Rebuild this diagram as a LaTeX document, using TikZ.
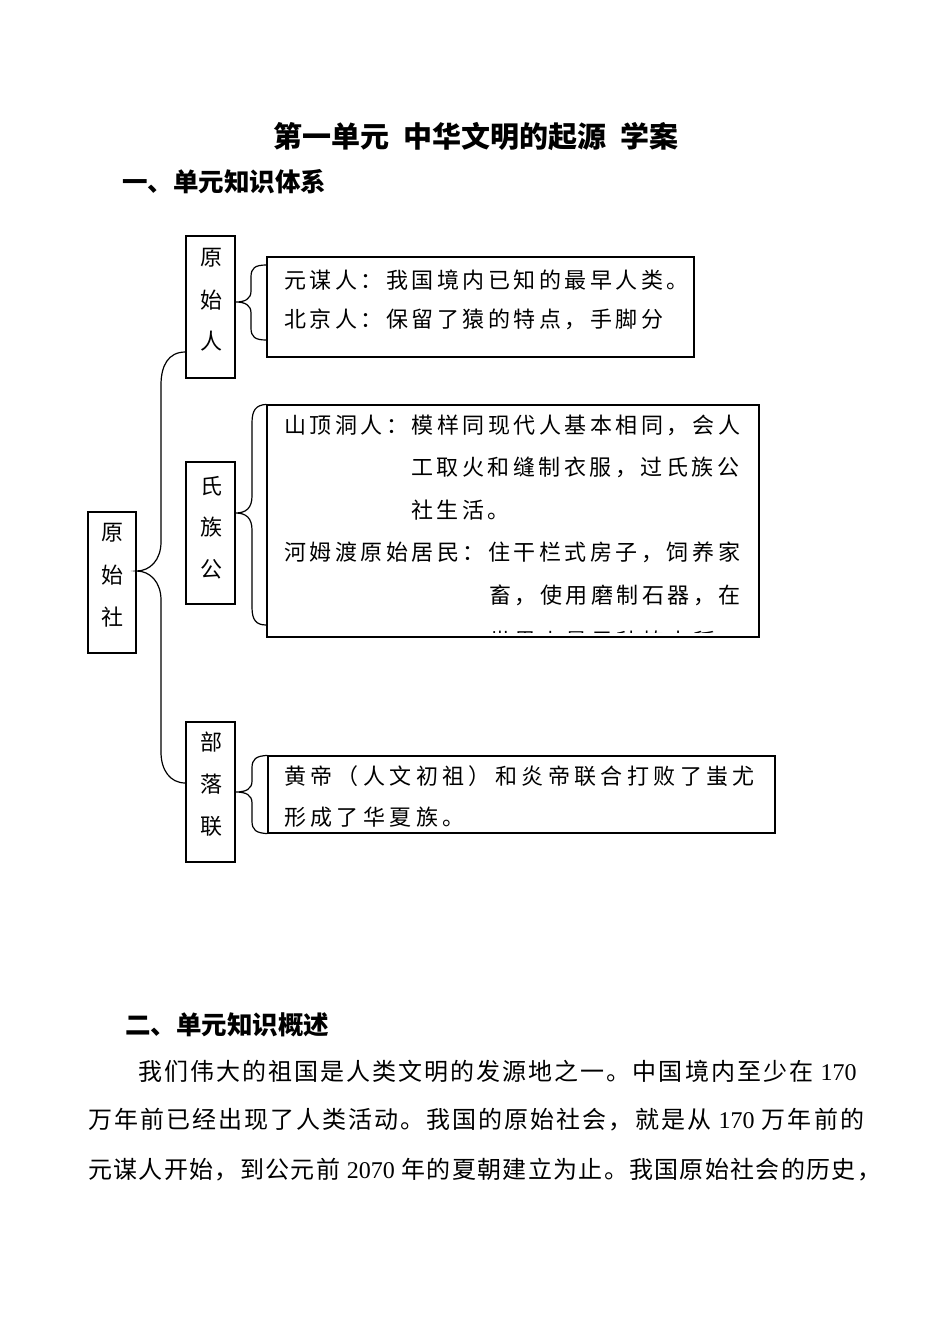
\documentclass[tikz,border=0pt]{standalone}
\usepackage{fontspec}
\newfontfamily\cjk{Noto Sans CJK SC}
\newfontfamily\lat{Liberation Serif}
\tikzset{
  ln/.style={line width=1.2pt, black},
  bx/.style={draw, line width=1.2pt, inner sep=0pt},
  vt/.style={inner sep=0pt, font=\cjk\fontsize{22}{22}\selectfont},
  tx/.style={anchor=west, inner sep=0pt, font=\cjk\fontsize{22}{22}\selectfont\addfontfeatures{LetterSpace=16}},
  txw/.style={anchor=west, inner sep=0pt, font=\cjk\fontsize{22}{22}\selectfont\addfontfeatures{LetterSpace=20}},
  hd/.style={anchor=west, inner sep=0pt, font=\cjk\bfseries\fontsize{25.5}{26}\selectfont},
  para/.style={anchor=west, inner sep=0pt, font=\cjk\fontsize{24}{24}\selectfont\addfontfeatures{LetterSpace=8.5}},
  parn/.style={anchor=west, inner sep=0pt, font=\cjk\fontsize{24}{24}\selectfont\addfontfeatures{LetterSpace=5.5}},
}
\newcommand\num[1]{{\lat\fontsize{24}{24}\selectfont #1}}
\begin{document}
\begin{tikzpicture}[x=1pt,y=-1pt]
\useasboundingbox[fill=white] (0,0) rectangle (950,1342);

% headings
\node[inner sep=0pt, font=\cjk\bfseries\fontsize{29}{29}\selectfont] (title) at (476,137) {第一单元\hspace{14pt}中华文明的起源\hspace{14pt}学案};
\node[hd] (h1) at (122,182) {一、单元知识体系};

% left boxes
\node[bx, minimum width=48pt, minimum height=141pt] (B0) at (112,582.5) {};
\node[bx, minimum width=49pt, minimum height=142pt] (B1) at (210.5,307) {};
\node[bx, minimum width=49pt, minimum height=142pt] (B2) at (210.5,533) {};
\node[bx, minimum width=49pt, minimum height=140pt] (B3) at (210.5,792) {};

\node[vt] (b0a) at (112,533) {原};
\node[vt] (b0b) at (112,575) {始};
\node[vt] (b0c) at (112,617) {社};
\node[vt] (b1a) at (211,258) {原};
\node[vt] (b1b) at (211,300) {始};
\node[vt] (b1c) at (211,341) {人};
\node[vt] (b2a) at (211,486) {氏};
\node[vt] (b2b) at (211,527) {族};
\node[vt] (b2c) at (211,569) {公};
\node[vt] (b3a) at (211,742) {部};
\node[vt] (b3b) at (211,784) {落};
\node[vt] (b3c) at (211,826) {联};

% text boxes
\node[bx, minimum width=427pt, minimum height=100pt] (T1) at (480.5,307) {};
\node[bx, minimum width=492pt, minimum height=232pt] (T2) at (513,521) {};
\node[bx, minimum width=507pt, minimum height=77pt] (T3) at (521.5,794.5) {};

\node[tx] (t1a) at (284,280) {元谋人：我国境内已知的最早人类。};
\node[tx] (t1b) at (284,319) {北京人：保留了猿的特点，手脚分};

\node[tx] (t2a) at (284,425) {山顶洞人：模样同现代人基本相同，会人};
\node[tx] (t2b) at (411,467) {工取火和缝制衣服，过氏族公};
\node[tx] (t2c) at (411,510) {社生活。};
\node[tx] (t2d) at (284,552) {河姆渡原始居民：住干栏式房子，饲养家};
\node[tx] (t2e) at (489,595) {畜，使用磨制石器，在};
\begin{scope}
\clip (268,406) rectangle (757,632);
\node[tx] (t2f) at (489,641) {世界上最早种植水稻};
\end{scope}

\node[txw] (t3a) at (284,776) {黄帝（人文初祖）和炎帝联合打败了蚩尤};
\node[txw] (t3b) at (284,817) {形成了华夏族。};

% big brace from B0 to B1 and B3
\draw[ln] (B1.west |- 0,352) .. controls (168,352) and (161,366) .. (161,385) -- (161,542)
  .. controls (161,560) and (150,571) .. (B0.east |- 0,571)
  .. controls (150,571) and (161,582) .. (161,600) -- (161,752)
  .. controls (161,770) and (170,783) .. (B3.west |- 0,783);

% small braces
\draw[ln] (T1.west |- 0,265) .. controls (255,265) and (251,268) .. (251,277) -- (251,291)
  .. controls (251,299) and (245,302) .. (B1.east |- 0,302)
  .. controls (245,302) and (251,305) .. (251,313) -- (251,328)
  .. controls (251,337) and (255,340) .. (T1.west |- 0,340);
\draw[ln] (T2.north west) .. controls (256,405) and (252,410) .. (252,423) -- (252,496)
  .. controls (252,508) and (246,513) .. (B2.east |- 0,513)
  .. controls (246,513) and (252,518) .. (252,530) -- (252,607)
  .. controls (252,620) and (256,625) .. (T2.west |- 0,625);
\draw[ln] (T3.north west) .. controls (256,756) and (252,759) .. (252,768) -- (252,781)
  .. controls (252,789) and (246,792) .. (B3.east |- 0,792)
  .. controls (246,792) and (252,795) .. (252,803) -- (252,821)
  .. controls (252,830) and (256,833) .. (T3.south west);

% section two
\node[hd] (h2) at (125,1025) {二、单元知识概述};
\node[para] (p1) at (138,1071) {我们伟大的祖国是人类文明的发源地之一。中国境内至少在 \num{170}};
\node[para] (p2) at (88,1120) {万年前已经出现了人类活动。我国的原始社会，就是从 \num{170} 万年前的};
\node[parn] (p3) at (88,1170) {元谋人开始，到公元前 \num{2070} 年的夏朝建立为止。我国原始社会的历史，};
\end{tikzpicture}
\end{document}
